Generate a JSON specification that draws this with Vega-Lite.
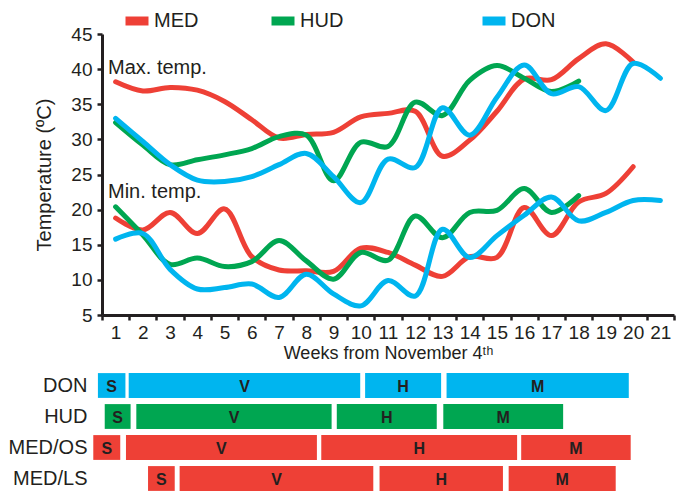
{
  "$schema": "https://vega.github.io/schema/vega-lite/v6.json",
  "padding": {"left": 8, "top": 5, "right": 8, "bottom": 4},
  "background": "white",
  "config": {
    "font": "Liberation Sans",
    "view": {"stroke": null},
    "axis": {
      "grid": false,
      "domainColor": "#231F20",
      "domainWidth": 3,
      "tickColor": "#231F20",
      "tickWidth": 2.5,
      "tickSize": 5,
      "labelColor": "#231F20",
      "titleColor": "#231F20",
      "titleFontWeight": "normal",
      "labelFont": "Liberation Sans",
      "titleFont": "Liberation Sans",
      "labelOverlap": false
    },
    "legend": {
      "padding": 0,
      "title": null,
      "orient": "none",
      "legendY": -29,
      "direction": "horizontal",
      "symbolType": "stroke",
      "symbolStrokeWidth": 9,
      "symbolSize": 529,
      "labelFontSize": 20,
      "labelColor": "#231F20",
      "labelOffset": 1,
      "columnPadding": 54
    }
  },
  "datasets": {
    "temps": [
      {"site":"MED","kind":"max","week":1,"temp":38.2},{"site":"MED","kind":"max","week":2,"temp":36.9},{"site":"MED","kind":"max","week":3,"temp":37.4},{"site":"MED","kind":"max","week":4,"temp":37.0},{"site":"MED","kind":"max","week":5,"temp":35.4},{"site":"MED","kind":"max","week":6,"temp":32.8},{"site":"MED","kind":"max","week":7,"temp":30.2},{"site":"MED","kind":"max","week":8,"temp":30.7},{"site":"MED","kind":"max","week":9,"temp":31.0},{"site":"MED","kind":"max","week":10,"temp":33.2},{"site":"MED","kind":"max","week":11,"temp":33.7},{"site":"MED","kind":"max","week":12,"temp":34.0},{"site":"MED","kind":"max","week":13,"temp":27.6},{"site":"MED","kind":"max","week":14,"temp":29.9},{"site":"MED","kind":"max","week":15,"temp":34.0},{"site":"MED","kind":"max","week":16,"temp":38.6},{"site":"MED","kind":"max","week":17,"temp":38.5},{"site":"MED","kind":"max","week":18,"temp":41.5},{"site":"MED","kind":"max","week":19,"temp":43.6},{"site":"MED","kind":"max","week":20,"temp":41.0},
      {"site":"MED","kind":"min","week":1,"temp":18.8},{"site":"MED","kind":"min","week":2,"temp":17.1},{"site":"MED","kind":"min","week":3,"temp":19.6},{"site":"MED","kind":"min","week":4,"temp":16.6},{"site":"MED","kind":"min","week":5,"temp":20.1},{"site":"MED","kind":"min","week":6,"temp":13.3},{"site":"MED","kind":"min","week":7,"temp":11.4},{"site":"MED","kind":"min","week":8,"temp":11.3},{"site":"MED","kind":"min","week":9,"temp":11.2},{"site":"MED","kind":"min","week":10,"temp":14.5},{"site":"MED","kind":"min","week":11,"temp":13.9},{"site":"MED","kind":"min","week":12,"temp":12.1},{"site":"MED","kind":"min","week":13,"temp":10.5},{"site":"MED","kind":"min","week":14,"temp":13.3},{"site":"MED","kind":"min","week":15,"temp":13.2},{"site":"MED","kind":"min","week":16,"temp":20.3},{"site":"MED","kind":"min","week":17,"temp":16.3},{"site":"MED","kind":"min","week":18,"temp":21.1},{"site":"MED","kind":"min","week":19,"temp":22.3},{"site":"MED","kind":"min","week":20,"temp":26.1},
      {"site":"HUD","kind":"max","week":1,"temp":32.4},{"site":"HUD","kind":"max","week":2,"temp":29.2},{"site":"HUD","kind":"max","week":3,"temp":26.4},{"site":"HUD","kind":"max","week":4,"temp":27.1},{"site":"HUD","kind":"max","week":5,"temp":27.8},{"site":"HUD","kind":"max","week":6,"temp":28.7},{"site":"HUD","kind":"max","week":7,"temp":30.4},{"site":"HUD","kind":"max","week":8,"temp":30.6},{"site":"HUD","kind":"max","week":9,"temp":24.1},{"site":"HUD","kind":"max","week":10,"temp":29.6},{"site":"HUD","kind":"max","week":11,"temp":29.0},{"site":"HUD","kind":"max","week":12,"temp":35.3},{"site":"HUD","kind":"max","week":13,"temp":33.4},{"site":"HUD","kind":"max","week":14,"temp":38.4},{"site":"HUD","kind":"max","week":15,"temp":40.5},{"site":"HUD","kind":"max","week":16,"temp":38.7},{"site":"HUD","kind":"max","week":17,"temp":36.8},{"site":"HUD","kind":"max","week":18,"temp":38.3},
      {"site":"HUD","kind":"min","week":1,"temp":20.4},{"site":"HUD","kind":"min","week":2,"temp":16.4},{"site":"HUD","kind":"min","week":3,"temp":12.2},{"site":"HUD","kind":"min","week":4,"temp":13.1},{"site":"HUD","kind":"min","week":5,"temp":11.9},{"site":"HUD","kind":"min","week":6,"temp":12.6},{"site":"HUD","kind":"min","week":7,"temp":15.6},{"site":"HUD","kind":"min","week":8,"temp":12.7},{"site":"HUD","kind":"min","week":9,"temp":10.1},{"site":"HUD","kind":"min","week":10,"temp":13.9},{"site":"HUD","kind":"min","week":11,"temp":12.8},{"site":"HUD","kind":"min","week":12,"temp":19.1},{"site":"HUD","kind":"min","week":13,"temp":16.0},{"site":"HUD","kind":"min","week":14,"temp":19.6},{"site":"HUD","kind":"min","week":15,"temp":19.9},{"site":"HUD","kind":"min","week":16,"temp":23.0},{"site":"HUD","kind":"min","week":17,"temp":19.6},{"site":"HUD","kind":"min","week":18,"temp":22.0},
      {"site":"DON","kind":"max","week":1,"temp":33.0},{"site":"DON","kind":"max","week":2,"temp":29.7},{"site":"DON","kind":"max","week":3,"temp":26.4},{"site":"DON","kind":"max","week":4,"temp":24.2},{"site":"DON","kind":"max","week":5,"temp":24.0},{"site":"DON","kind":"max","week":6,"temp":24.7},{"site":"DON","kind":"max","week":7,"temp":26.4},{"site":"DON","kind":"max","week":8,"temp":28.0},{"site":"DON","kind":"max","week":9,"temp":24.7},{"site":"DON","kind":"max","week":10,"temp":21.0},{"site":"DON","kind":"max","week":11,"temp":27.2},{"site":"DON","kind":"max","week":12,"temp":26.0},{"site":"DON","kind":"max","week":13,"temp":34.5},{"site":"DON","kind":"max","week":14,"temp":30.6},{"site":"DON","kind":"max","week":15,"temp":36.0},{"site":"DON","kind":"max","week":16,"temp":40.6},{"site":"DON","kind":"max","week":17,"temp":36.5},{"site":"DON","kind":"max","week":18,"temp":37.5},{"site":"DON","kind":"max","week":19,"temp":34.1},{"site":"DON","kind":"max","week":20,"temp":40.8},{"site":"DON","kind":"max","week":21,"temp":38.7},
      {"site":"DON","kind":"min","week":1,"temp":15.8},{"site":"DON","kind":"min","week":2,"temp":16.6},{"site":"DON","kind":"min","week":3,"temp":11.5},{"site":"DON","kind":"min","week":4,"temp":8.7},{"site":"DON","kind":"min","week":5,"temp":8.9},{"site":"DON","kind":"min","week":6,"temp":9.4},{"site":"DON","kind":"min","week":7,"temp":7.5},{"site":"DON","kind":"min","week":8,"temp":10.8},{"site":"DON","kind":"min","week":9,"temp":8.0},{"site":"DON","kind":"min","week":10,"temp":6.3},{"site":"DON","kind":"min","week":11,"temp":9.9},{"site":"DON","kind":"min","week":12,"temp":7.7},{"site":"DON","kind":"min","week":13,"temp":17.2},{"site":"DON","kind":"min","week":14,"temp":13.2},{"site":"DON","kind":"min","week":15,"temp":16.3},{"site":"DON","kind":"min","week":16,"temp":19.2},{"site":"DON","kind":"min","week":17,"temp":21.8},{"site":"DON","kind":"min","week":18,"temp":18.4},{"site":"DON","kind":"min","week":19,"temp":19.6},{"site":"DON","kind":"min","week":20,"temp":21.3},{"site":"DON","kind":"min","week":21,"temp":21.3}
    ],
    "notes": [
      {"week": 0.72, "temp": 40.1, "label": "Max. temp."},
      {"week": 0.72, "temp": 22.5, "label": "Min. temp."}
    ],
    "phases": [
      {"row":"DON","site":"DON","phase":"S","start":0.35,"end":1.36},
      {"row":"DON","site":"DON","phase":"V","start":1.48,"end":9.98},
      {"row":"DON","site":"DON","phase":"H","start":10.16,"end":12.95},
      {"row":"DON","site":"DON","phase":"M","start":13.15,"end":19.84},
      {"row":"HUD","site":"HUD","phase":"S","start":0.6,"end":1.55},
      {"row":"HUD","site":"HUD","phase":"V","start":1.76,"end":8.93},
      {"row":"HUD","site":"HUD","phase":"H","start":9.12,"end":12.79},
      {"row":"HUD","site":"HUD","phase":"M","start":13.03,"end":17.43},
      {"row":"MED/OS","site":"MED","phase":"S","start":0.18,"end":1.17},
      {"row":"MED/OS","site":"MED","phase":"V","start":1.38,"end":8.39},
      {"row":"MED/OS","site":"MED","phase":"H","start":8.55,"end":15.74},
      {"row":"MED/OS","site":"MED","phase":"M","start":15.89,"end":19.91},
      {"row":"MED/LS","site":"MED","phase":"S","start":2.19,"end":3.17},
      {"row":"MED/LS","site":"MED","phase":"V","start":3.35,"end":10.46},
      {"row":"MED/LS","site":"MED","phase":"H","start":10.69,"end":15.22},
      {"row":"MED/LS","site":"MED","phase":"M","start":15.43,"end":19.36}
    ]
  },
  "spacing": 8,
  "resolve": {"scale": {"color": "independent", "x": "independent", "y": "independent"}},
  "vconcat": [
    {
      "width": 572,
      "height": 281,
      "encoding": {
        "x": {
          "field": "week", "type": "quantitative",
          "scale": {"domain": [0.5, 21.5], "nice": false, "zero": false},
          "axis": {
            "values": [0.5,1.5,2.5,3.5,4.5,5.5,6.5,7.5,8.5,9.5,10.5,11.5,12.5,13.5,14.5,15.5,16.5,17.5,18.5,19.5,20.5,21.5],
            "labelExpr": "datum.value < 21 ? format(datum.value + 0.5, 'd') : ''",
            "labelOffset": 13.6,
            "labelFontSize": 19,
            "labelOverlap": false,
            "labelFlush": false,
            "labelPadding": 3,
            "title": "Weeks from November 4ᵗʰ",
            "titleFontSize": 18,
            "titlePadding": 2
          }
        },
        "y": {
          "field": "temp", "type": "quantitative",
          "scale": {"domain": [5, 45], "nice": false, "zero": false},
          "axis": {
            "values": [5,10,15,20,25,30,35,40,45],
            "labelFontSize": 19,
            "labelOverlap": false,
            "labelPadding": 5,
            "title": "Temperature (ºC)",
            "titleFontSize": 20,
            "titlePadding": 16
          }
        }
      },
      "resolve": {"scale": {"color": "independent"}},
      "layer": [
        {
          "data": {"name": "temps"},
          "transform": [{"filter": "datum.site !== 'DON'"}],
          "mark": {"type": "line", "interpolate": "catmull-rom", "strokeWidth": 5, "strokeCap": "round", "strokeJoin": "round"},
          "encoding": {
            "color": {
              "field": "site", "type": "nominal",
              "scale": {"domain": ["MED", "HUD"], "range": ["#EE4036", "#00A651"]},
              "legend": {"legendX": 19}
            },
            "detail": {"field": "kind", "type": "nominal"}
          }
        },
        {
          "data": {"name": "temps"},
          "transform": [{"filter": "datum.site === 'DON'"}],
          "mark": {"type": "line", "interpolate": "catmull-rom", "strokeWidth": 5, "strokeCap": "round", "strokeJoin": "round"},
          "encoding": {
            "color": {
              "field": "site", "type": "nominal",
              "scale": {"domain": ["DON"], "range": ["#00B5EF"]},
              "legend": {"legendX": 376}
            },
            "detail": {"field": "kind", "type": "nominal"}
          }
        },
        {
          "data": {"name": "notes"},
          "mark": {"type": "text", "align": "left", "baseline": "middle", "fontSize": 20, "color": "#231F20"},
          "encoding": {
            "text": {"field": "label"}
          }
        }
      ]
    },
    {
      "width": 572,
      "height": 124,
      "data": {"name": "phases"},
      "encoding": {
        "y": {
          "field": "row", "type": "nominal",
          "sort": ["DON", "HUD", "MED/OS", "MED/LS"],
          "scale": {"paddingInner": 0.2, "paddingOuter": 0.1},
          "axis": {"title": null, "domain": false, "ticks": false, "tickSize": 0, "labelFontSize": 20, "labelPadding": 15}
        }
      },
      "layer": [
        {
          "mark": {"type": "bar"},
          "encoding": {
            "x": {"field": "start", "type": "quantitative", "scale": {"domain": [0.5, 21.5], "nice": false, "zero": false}, "axis": null},
            "x2": {"field": "end"},
            "color": {
              "field": "site", "type": "nominal",
              "scale": {"domain": ["MED", "HUD", "DON"], "range": ["#EE4036", "#00A651", "#00B5EF"]},
              "legend": null
            }
          }
        },
        {
          "transform": [{"calculate": "(datum.start + datum.end) / 2", "as": "mid"}],
          "mark": {"type": "text", "fontSize": 16, "fontWeight": "bold", "color": "#231F20", "baseline": "middle", "dy": 1},
          "encoding": {
            "x": {"field": "mid", "type": "quantitative"},
            "text": {"field": "phase"}
          }
        }
      ]
    }
  ]
}
